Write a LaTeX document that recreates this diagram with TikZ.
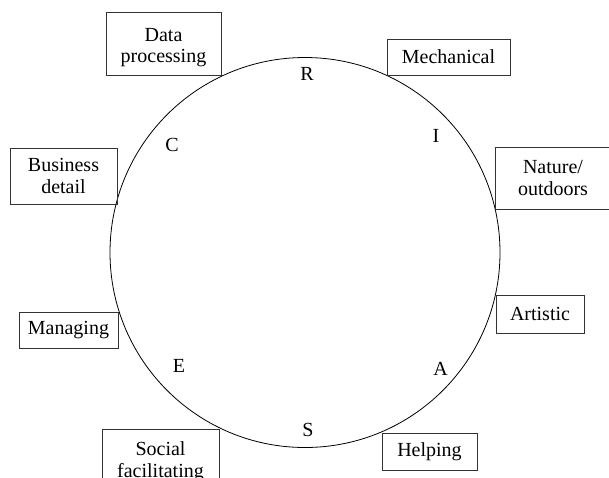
\documentclass[tikz,border=0pt]{standalone}
\usepackage{fontspec}
\setmainfont{Liberation Serif}
\newcommand{\tallstrut}{\rule{0pt}{21.5pt}}
\begin{document}
\begin{tikzpicture}[x=1pt,y=-1pt,
  box/.style={draw=black!80, line width=0.8pt, rectangle, inner sep=0pt, align=center,
    font=\fontsize{20}{21.5}\selectfont},
  letter/.style={inner sep=0pt, font=\fontsize{20}{21.5}\selectfont},
  ring/.style={draw, circle, line width=0.8pt, inner sep=0pt, minimum size=390pt}]
\useasboundingbox (0,0) rectangle (609,477);
\node[ring] (wheel) at (305,252.5) {};
% letters
\node[letter] (R) at (307,73.5) {R};
\node[letter] (I) at (436,135.5) {I};
\node[letter] (C) at (172,144.5) {C};
\node[letter] (E) at (179,366) {E};
\node[letter] (A) at (440.5,368.5) {A};
\node[letter] (S) at (308,429.5) {S};
% boxes
\node[box, minimum width=115pt, minimum height=63pt] (data) at (163.5,43.5) {\tallstrut Data\\processing};
\node[box, minimum width=123pt, minimum height=36pt] (mech) at (448.5,57) {Mechanical};
\node[box, minimum width=116pt, minimum height=62pt] (nature) at (553,178) {Nature/\\outdoors};
\node[box, minimum width=88pt, minimum height=38pt] (art) at (540,314) {Artistic};
\node[box, minimum width=107pt, minimum height=56pt] (bus) at (63.5,176) {Business\\detail};
\node[box, minimum width=99pt, minimum height=36pt] (man) at (68.5,330) {Managing};
\node[box, minimum width=117pt, minimum height=65pt] (soc) at (160.5,461.5) {Social\\facilitating};
\node[box, minimum width=95pt, minimum height=37pt] (help) at (429.5,451.5) {Helping};
\end{tikzpicture}
\end{document}
